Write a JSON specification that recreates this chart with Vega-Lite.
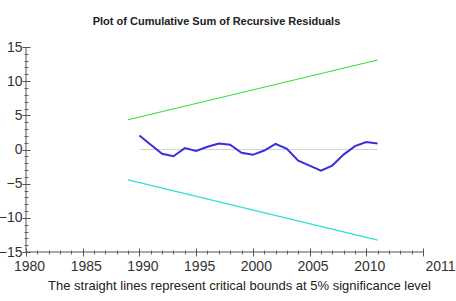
{
  "$schema": "https://vega.github.io/schema/vega-lite/v6.json",
  "width": 397,
  "height": 205,
  "autosize": "none",
  "padding": {"left": 26, "top": 47, "right": 33, "bottom": 49},
  "background": "white",
  "config": {"view": {"stroke": null}, "font": "Liberation Sans, Arial"},
  "title": {
    "text": "Plot of Cumulative Sum of Recursive Residuals",
    "font": "Liberation Sans, Arial",
    "fontSize": 11,
    "fontWeight": "bold",
    "color": "#222222",
    "anchor": "middle",
    "dx": -8,
    "offset": 13
  },
  "datasets": {
    "resid": [
      {"year": 1990, "value": 2.06},
      {"year": 1991, "value": 0.7},
      {"year": 1992, "value": -0.63},
      {"year": 1993, "value": -0.98},
      {"year": 1994, "value": 0.2},
      {"year": 1995, "value": -0.2},
      {"year": 1996, "value": 0.4},
      {"year": 1997, "value": 0.88},
      {"year": 1998, "value": 0.69},
      {"year": 1999, "value": -0.49},
      {"year": 2000, "value": -0.78},
      {"year": 2001, "value": -0.15},
      {"year": 2002, "value": 0.83},
      {"year": 2003, "value": 0.1},
      {"year": 2004, "value": -1.62},
      {"year": 2005, "value": -2.35},
      {"year": 2006, "value": -3.1},
      {"year": 2007, "value": -2.35},
      {"year": 2008, "value": -0.75},
      {"year": 2009, "value": 0.5},
      {"year": 2010, "value": 1.1},
      {"year": 2011, "value": 0.88}
    ],
    "bounds": [
      {"year": 1989, "upper": 4.35, "lower": -4.45},
      {"year": 2011, "upper": 13.1, "lower": -13.25}
    ],
    "zero": [
      {"year": 1990, "value": 0},
      {"year": 2011, "value": 0}
    ]
  },
  "layer": [
    {
      "data": {"name": "zero"},
      "mark": {"type": "line", "color": "#d4d4d4", "strokeWidth": 1},
      "encoding": {
        "x": {
          "field": "year", "type": "quantitative",
          "scale": {"domain": [1980, 2015], "nice": false, "zero": false},
          "axis": {
            "orient": "bottom",
            "values": [1980, 1985, 1990, 1995, 2000, 2005, 2010, 2015],
            "labelExpr": "datum.value == 2015 ? '2011' : datum.label",
            "format": "d",
            "offset": -4,
            "tickSize": 8,
            "tickColor": "#555555",
            "domain": false,
            "grid": false,
            "labelFlush": false,
            "labelFontSize": 14,
            "labelColor": "#333333",
            "labelPadding": 3,
            "labelOffset": {"condition": {"test": "datum.value == 2015", "value": 17}, "value": 3},
            "title": "The straight lines represent critical bounds at 5% significance level",
            "titleFontSize": 13,
            "titleFontWeight": "normal",
            "titleColor": "#222222",
            "titlePadding": 6,
            "titleX": 213
          }
        },
        "y": {
          "field": "value", "type": "quantitative",
          "scale": {"domain": [-15, 15], "nice": false},
          "axis": {
            "orient": "left",
            "values": [-15, -10, -5, 0, 5, 10, 15],
            "offset": -4,
            "tickSize": 8,
            "tickColor": "#555555",
            "domain": false,
            "grid": false,
            "labelFlush": false,
            "labelFontSize": 14,
            "labelColor": "#333333",
            "labelPadding": 0,
            "title": null
          }
        }
      }
    },
    {
      "data": {"name": "bounds"},
      "mark": {"type": "line", "color": "#33e044", "strokeWidth": 1.2},
      "encoding": {
        "x": {"field": "year", "type": "quantitative", "axis": null},
        "y": {"field": "upper", "type": "quantitative", "axis": null}
      }
    },
    {
      "data": {"name": "bounds"},
      "mark": {"type": "line", "color": "#2fe0d4", "strokeWidth": 1.2},
      "encoding": {
        "x": {"field": "year", "type": "quantitative", "axis": null},
        "y": {"field": "lower", "type": "quantitative", "axis": null}
      }
    },
    {
      "data": {"name": "resid"},
      "mark": {"type": "line", "color": "#3a2ee0", "strokeWidth": 2},
      "encoding": {
        "x": {"field": "year", "type": "quantitative", "axis": null},
        "y": {"field": "value", "type": "quantitative", "axis": null}
      }
    },
    {
      "data": {"values": [{"a": 1}]},
      "mark": {"type": "rule", "color": "#555555", "strokeWidth": 1},
      "encoding": {"x": {"datum": 1980, "type": "quantitative", "axis": null}}
    },
    {
      "data": {"values": [{"a": 1}]},
      "mark": {"type": "rule", "color": "#555555", "strokeWidth": 1},
      "encoding": {"y": {"datum": -15, "type": "quantitative", "axis": null}}
    },
    {
      "data": {"name": "zero"},
      "mark": {"type": "line", "opacity": 0},
      "encoding": {
        "x": {
          "field": "year", "type": "quantitative",
          "axis": {
            "orient": "bottom",
            "values": [1981,1982,1983,1984,1986,1987,1988,1989,1991,1992,1993,1994,1996,1997,1998,1999,2001,2002,2003,2004,2006,2007,2008,2009,2011,2012,2013,2014],
            "offset": -2, "tickSize": 4, "tickColor": "#666666",
            "labels": false, "domain": false, "grid": false, "title": null
          }
        },
        "y": {
          "field": "value", "type": "quantitative",
          "axis": {
            "orient": "left",
            "values": [-14,-13,-12,-11,-9,-8,-7,-6,-4,-3,-2,-1,1,2,3,4,6,7,8,9,11,12,13,14],
            "offset": -2, "tickSize": 4, "tickColor": "#666666",
            "labels": false, "domain": false, "grid": false, "title": null
          }
        }
      }
    }
  ],
  "resolve": {"axis": {"x": "independent", "y": "independent"}}
}
